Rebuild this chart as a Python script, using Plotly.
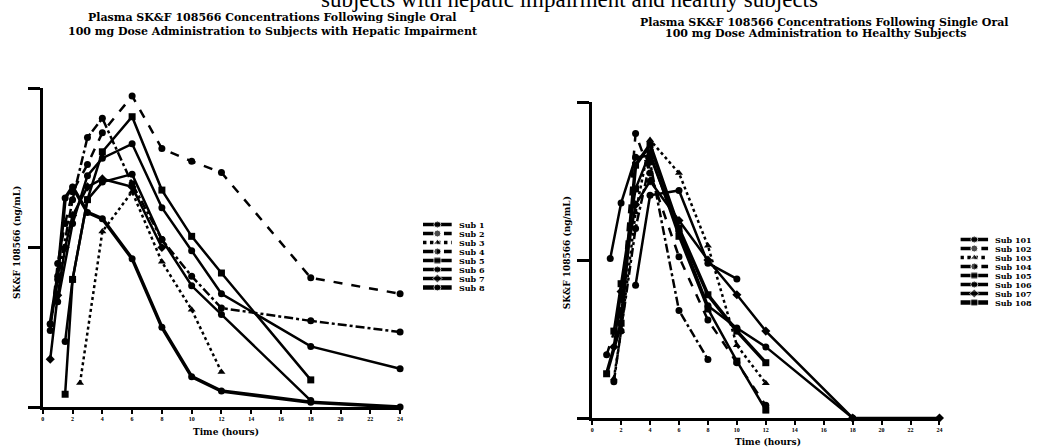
import plotly.graph_objects as go

W, H = 1041, 448

# ---------------- data ----------------
TIME_TICKS = [0, 2, 4, 6, 8, 10, 12, 14, 16, 18, 20, 22, 24]
TIME_TICK_TEXT = [str(v) for v in TIME_TICKS]
CONC_TICKS = [0, 1000, 2000]

# Hepatic impairment subjects (time h, SK&F 108566 ng/mL)
hep_names = ["Sub 1", "Sub 2", "Sub 3", "Sub 4", "Sub 5", "Sub 6", "Sub 7", "Sub 8"]
hep1_t = [1, 2, 3, 4, 6, 8, 10, 12, 18, 24]
hep1_c = [660, 1150, 1450, 1560, 1650, 1250, 980, 710, 380, 240]
hep2_t = [0.5, 1, 1.5, 2, 3, 4, 6, 8, 10, 12, 18, 24]
hep2_c = [480, 900, 1150, 1350, 1520, 1720, 1950, 1620, 1540, 1470, 810, 710]
hep3_t = [2.5, 4, 6, 8, 10, 12]
hep3_c = [150, 1100, 1350, 910, 610, 220]
hep4_t = [0.5, 1, 2, 3, 4, 6, 8, 10, 12, 18, 24]
hep4_c = [520, 800, 1300, 1690, 1810, 1400, 1050, 820, 620, 540, 470]
hep5_t = [1.5, 2, 3, 4, 6, 8, 10, 12, 18]
hep5_c = [80, 800, 1300, 1600, 1820, 1360, 1070, 840, 170]
hep6_t = [1.5, 2, 3, 4, 6, 8, 10, 12, 18]
hep6_c = [410, 800, 1300, 1410, 1460, 1050, 760, 580, 40]
hep7_t = [0.5, 1, 1.5, 2, 3, 4, 6, 8]
hep7_c = [300, 700, 1000, 1200, 1380, 1430, 1380, 1000]
hep8_t = [0.5, 1, 1.5, 2, 3, 4, 6, 8, 10, 12, 18, 24]
hep8_c = [520, 820, 1310, 1380, 1220, 1180, 930, 500, 190, 100, 30, 0]

# Healthy subjects
hlt_names = ["Sub 101", "Sub 102", "Sub 103", "Sub 104", "Sub 105", "Sub 106", "Sub 107", "Sub 108"]
hlt1_t = [1.25, 2, 3, 4, 6, 8, 10, 12, 18]
hlt1_c = [1010, 1360, 1650, 1660, 1180, 710, 570, 450, 0]
hlt2_t = [1, 2, 3, 4, 6, 8, 10, 12]
hlt2_c = [400, 680, 1800, 1550, 1020, 620, 350, 80]
hlt3_t = [1.5, 2, 3, 4, 6, 8, 10, 12]
hlt3_c = [250, 550, 1300, 1760, 1550, 1090, 460, 220]
hlt4_t = [1.5, 2, 3, 4, 6, 8]
hlt4_c = [230, 550, 1200, 1620, 680, 370]
hlt5_t = [1.5, 2, 3, 4, 6, 8, 10, 12]
hlt5_c = [550, 850, 1450, 1680, 1150, 690, 360, 50]
hlt6_t = [3, 4, 6, 8, 10]
hlt6_c = [840, 1410, 1440, 980, 880]
hlt7_t = [1.5, 2, 3, 4, 6, 8, 10, 12, 18, 24]
hlt7_c = [450, 800, 1350, 1500, 1250, 1000, 780, 550, 0, 0]
hlt8_t = [1, 2, 3, 4, 6, 8, 10, 12]
hlt8_c = [280, 600, 1600, 1730, 1200, 780, 550, 350]

TITLE_TOP = "subjects with hepatic impairment and healthy subjects"
TITLE_L1 = "Plasma SK&amp;F 108566 Concentrations Following Single Oral"
TITLE_L2 = "100 mg Dose Administration to Subjects with Hepatic Impairment"
TITLE_R1 = "Plasma SK&amp;F 108566 Concentrations Following Single Oral"
TITLE_R2 = "100 mg Dose Administration to Healthy Subjects"
XTITLE = "Time (hours)"
YTITLE = "SK&amp;F 108566 (ng/mL)"

# ---------------- styles ----------------
hep_series = [(hep1_t, hep1_c), (hep2_t, hep2_c), (hep3_t, hep3_c), (hep4_t, hep4_c),
              (hep5_t, hep5_c), (hep6_t, hep6_c), (hep7_t, hep7_c), (hep8_t, hep8_c)]
hlt_series = [(hlt1_t, hlt1_c), (hlt2_t, hlt2_c), (hlt3_t, hlt3_c), (hlt4_t, hlt4_c),
              (hlt5_t, hlt5_c), (hlt6_t, hlt6_c), (hlt7_t, hlt7_c), (hlt8_t, hlt8_c)]
hep_style = [("solid", "circle", 2.5), ("dash", "circle", 2.5), ("dot", "triangle-up", 2.5),
             ("dashdot", "circle", 2.5), ("solid", "square", 2.5), ("solid", "circle", 2.5),
             ("solid", "diamond", 2.5), ("solid", "circle", 3.5)]
hlt_style = [("solid", "circle", 2.5), ("dash", "circle", 2.5), ("dot", "triangle-up", 2.5),
             ("dashdot", "circle", 2.5), ("solid", "square", 2.5), ("solid", "circle", 2.5),
             ("solid", "diamond", 2.5), ("solid", "square", 3.5)]

INK = "#000000"
SERIF = "Liberation Serif, DejaVu Serif, serif"
HEAVY = "DejaVu Serif, Liberation Serif, serif"

fig = go.Figure()

def add_series(series, styles, names, xa, ya):
    for (t, c), (dash, sym, lw), nm in zip(series, styles, names):
        fig.add_trace(go.Scatter(
            x=t, y=c, name=nm, mode="lines+markers", xaxis=xa, yaxis=ya,
            line=dict(color=INK, width=lw, dash=dash),
            marker=dict(color=INK, size=7, symbol=sym),
            cliponaxis=False, showlegend=False, hoverinfo="skip"))

add_series(hep_series, hep_style, hep_names, "x", "y")
add_series(hlt_series, hlt_style, hlt_names, "x2", "y2")

# legend samples drawn on small hidden axes
def add_legend(styles, names, xa, ya):
    for i, ((dash, sym, lw), nm) in enumerate(zip(styles, names)):
        fig.add_trace(go.Scatter(
            x=[0, 0.5, 1], y=[i, i, i], mode="lines+markers", xaxis=xa, yaxis=ya,
            line=dict(color=INK, width=lw + 1, dash=dash),
            marker=dict(color=INK, size=[0, 7, 0], symbol=sym),
            cliponaxis=False, showlegend=False, hoverinfo="skip"))

add_legend(hep_style, hep_names, "x3", "y3")
add_legend(hlt_style, hlt_names, "x4", "y4")

def px_x(p):
    return p / W

def px_y(p):
    return (H - p) / H

axis_common = dict(showgrid=False, zeroline=False, showline=True, linecolor=INK,
                   linewidth=3, ticks="outside", tickcolor=INK)

hidden = dict(visible=False, showgrid=False, zeroline=False)

fig.update_layout(
    width=W, height=H, margin=dict(l=0, r=0, t=0, b=0),
    paper_bgcolor="white", plot_bgcolor="white", showlegend=False,
    xaxis=dict(domain=[px_x(41), px_x(400)], range=[0, 24], tickvals=TIME_TICKS,
               ticktext=TIME_TICK_TEXT, ticklen=4, tickwidth=2, anchor="y",
               tickfont=dict(family=SERIF, size=6, color=INK, weight="bold"), **axis_common),
    yaxis=dict(domain=[px_y(407), px_y(88)], range=[0, 2000], tickvals=CONC_TICKS,
               showticklabels=False, ticklen=12, tickwidth=3, anchor="x", **axis_common),
    xaxis2=dict(domain=[px_x(593), px_x(942)], range=[0, 24], tickvals=TIME_TICKS,
                ticktext=TIME_TICK_TEXT, ticklen=4, tickwidth=2, anchor="y2",
                tickfont=dict(family=SERIF, size=6, color=INK, weight="bold"), **axis_common),
    yaxis2=dict(domain=[px_y(418), px_y(102)], range=[0, 2000], tickvals=CONC_TICKS,
                showticklabels=False, ticklen=12, tickwidth=3, anchor="x2", **axis_common),
    xaxis3=dict(domain=[px_x(423), px_x(452)], range=[0, 1], anchor="y3", **hidden),
    yaxis3=dict(domain=[px_y(292), px_y(220)], range=[7.5, -0.5], anchor="x3", **hidden),
    xaxis4=dict(domain=[px_x(963), px_x(991)], range=[0, 1], anchor="y4", **hidden),
    yaxis4=dict(domain=[px_y(307), px_y(235)], range=[7.5, -0.5], anchor="x4", **hidden),
)

def note(text, x, y, size, family=HEAVY, bold=True, xanchor="center", yanchor="middle",
         yref="paper", angle=0):
    font = dict(family=family, size=size, color=INK)
    if bold:
        font["weight"] = "bold"
    return dict(text=text, x=x, y=y, xref="paper", yref=yref, xanchor=xanchor,
                yanchor=yanchor, showarrow=False, textangle=angle, font=font)

ann = []
ann.append(note(TITLE_TOP, px_x(570), px_y(14), 23, family=SERIF, bold=False, yanchor="bottom"))
ann.append(note(TITLE_L1, px_x(272), px_y(18), 11))
ann.append(note(TITLE_L2, px_x(272), px_y(31), 11))
ann.append(note(TITLE_R1, px_x(826), px_y(22), 11))
ann.append(note(TITLE_R2, px_x(818), px_y(34), 11))
for cx, cy in [(225, 432), (770, 442)]:
    ann.append(note(XTITLE, px_x(cx), px_y(cy), 9))
for cx, cy in [(15, 242), (568, 253)]:
    ann.append(note(YTITLE, px_x(cx), px_y(cy), 9, angle=-90))
for i, nm in enumerate(hep_names):
    ann.append(note(nm, px_x(457), i, 8, xanchor="left", yref="y3"))
for i, nm in enumerate(hlt_names):
    ann.append(note(nm, px_x(996), i, 8, xanchor="left", yref="y4"))
fig.update_layout(annotations=ann)

fig.write_html("out.html")
